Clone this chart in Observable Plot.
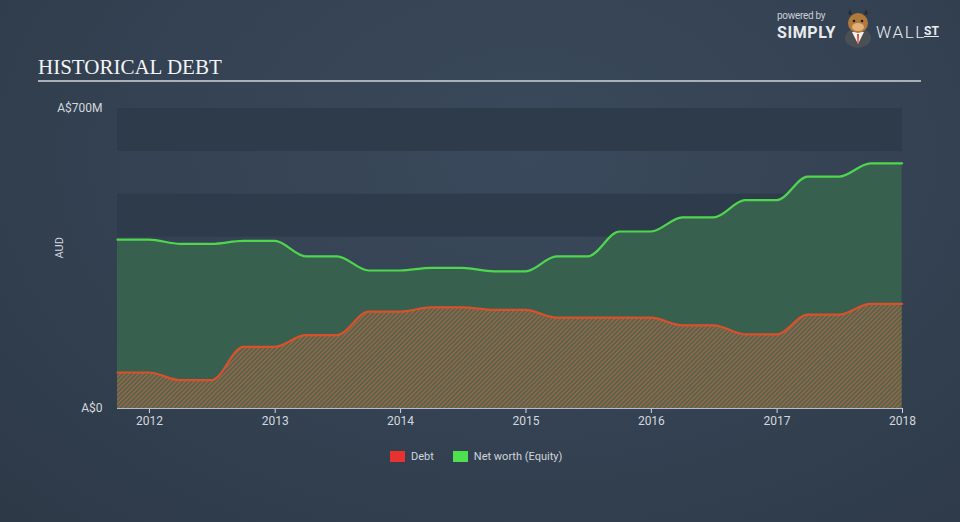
<!DOCTYPE html>
<html><head><meta charset="utf-8">
<script src="https://cdn.jsdelivr.net/npm/d3@7"></script>
<script src="https://cdn.jsdelivr.net/npm/@observablehq/plot@0.6"></script>
<style>
html,body{margin:0;padding:0;}
body{width:960px;height:522px;overflow:hidden;background:#344253;}
#wrap{position:relative;width:960px;height:522px;overflow:hidden;
  background:radial-gradient(ellipse at 55% 30%, #3a495b 0%, #344253 50%, #2d3947 100%);
  font-family:Roboto,"Liberation Sans",sans-serif;}
#chart{position:absolute;left:0;top:0;}
#title{position:absolute;left:38px;top:55px;font-family:"Liberation Serif","DejaVu Serif",serif;font-size:21px;color:#f2f4f6;}
#rule{position:absolute;left:38px;top:80px;width:883px;height:2px;background:#a9b0b8;}
#legend{position:absolute;top:450px;left:390px;display:flex;align-items:center;font-size:11px;color:#d0d5db;}
#legend .sw{width:15px;height:11px;display:inline-block;margin-right:6px;}
#legend .it{display:flex;align-items:center;margin-right:19px;}
#logo{position:absolute;left:777px;top:10px;color:#e9ecef;}
#logo .pb{font-size:10px;color:#c9ced4;position:absolute;left:0;top:0;white-space:nowrap;letter-spacing:-0.3px;}
#logo .s{font-size:16px;font-weight:bold;position:absolute;left:0;top:13px;letter-spacing:0.6px;}
#logo .w{font-size:17px;font-weight:300;position:absolute;left:99px;top:12px;letter-spacing:1.6px;}
#logo .st{font-size:12px;font-weight:bold;position:absolute;left:147px;top:14px;text-decoration:underline;}
#logo svg{position:absolute;left:64px;top:-2px;}
</style>
</head><body>
<div id="wrap">
  <div id="chart"></div>
  <div id="title">HISTORICAL DEBT</div>
  <div id="rule"></div>
  <div id="logo">
    <span class="pb">powered by</span>
    <span class="s">SIMPLY</span>
    <svg width="34" height="40" viewBox="0 0 34 40">
      <ellipse cx="17" cy="30" rx="13" ry="10" fill="#4a4f55"/>
      <path d="M11 24 L17 36 L23 24 Z" fill="#f2f2f2"/>
      <path d="M16 26 L18 26 L17.5 36 L16.5 36 Z" fill="#d9482b"/>
      <path d="M7 6 L9 1 L11 7 Z M27 6 L25 1 L23 7 Z" fill="#2b2b2b"/>
      <ellipse cx="17" cy="15" rx="10" ry="10" fill="#b07a3a"/>
      <ellipse cx="17" cy="19" rx="6" ry="4" fill="#e2b07a"/>
      <circle cx="13" cy="13" r="1.3" fill="#222"/><circle cx="21" cy="13" r="1.3" fill="#222"/>
    </svg>
    <span class="w">WALL</span>
    <span class="st">ST</span>
  </div>
  <div id="legend">
    <span class="it"><span class="sw" style="background:#e8322f"></span>Debt</span>
    <span class="it"><span class="sw" style="background:#4fe04f"></span>Net worth (Equity)</span>
  </div>
</div>
<script>
// Quarter-end dates (reported semi-annual values held across quarters)
const dates = [
  "2011-09-30","2011-12-31","2012-03-31","2012-06-30","2012-09-30","2012-12-31",
  "2013-03-31","2013-06-30","2013-09-30","2013-12-31","2014-03-31","2014-06-30",
  "2014-09-30","2014-12-31","2015-03-31","2015-06-30","2015-09-30","2015-12-31",
  "2016-03-31","2016-06-30","2016-09-30","2016-12-31","2017-03-31","2017-06-30",
  "2017-09-30","2017-12-31"
];
// Debt, A$ millions
const debt = [84,84,66,66,144,144,171,171,226,226,236,236,230,230,212,212,212,212,194,194,173,173,219,219,244,244];
// Net worth (Equity), A$ millions
const equity = [394,394,384,384,391,391,355,355,322,322,328,328,320,320,355,355,413,413,446,446,486,486,541,541,572,572];
// Axis ticks
const yearTicks = ["2012-01-01","2013-01-01","2014-01-01","2015-01-01","2016-01-01","2017-01-01","2018-01-01"];
const yTicks = [0, 700];
const xDomain = ["2011-09-30","2018-01-01"];
const yDomain = [0, 700];
// Alternating background bands (A$ millions)
const bandLow = [600, 400, 200, 0];
const bandHigh = [700, 500, 300, 100];

const data = dates.map((d, i) => ({date: new Date(d), debt: debt[i], equity: equity[i]}));
const bands = bandLow.map((lo, i) => ({lo, hi: bandHigh[i]}));

const chart = Plot.plot({
  width: 960,
  height: 522,
  marginLeft: 117,
  marginRight: 58,
  marginTop: 108,
  marginBottom: 114,
  style: {background: "transparent", color: "#d3d8de", fontSize: "12px", fontFamily: "Roboto, 'Liberation Sans', sans-serif"},
  x: {type: "utc", domain: xDomain.map(d => new Date(d)), ticks: yearTicks.map(d => new Date(d)), tickFormat: d3.utcFormat("%Y"), tickSize: 5, tickPadding: 3, label: null},
  y: {domain: yDomain, ticks: yTicks, tickFormat: d => d === 0 ? "A$0" : `A$${d}M`, tickSize: 0, tickPadding: 15, label: null},
  marks: [
    Plot.rect(bands, {y1: "lo", y2: "hi", fill: "#2e3b4b"}),
    Plot.areaY(data, {x: "date", y: "equity", fill: "#38604e", curve: "monotone-x"}),
    Plot.areaY(data, {x: "date", y: "debt", fill: "url(#hatch)", curve: "monotone-x"}),
    Plot.lineY(data, {x: "date", y: "equity", stroke: "#4fd64f", strokeWidth: 2.2, curve: "monotone-x"}),
    Plot.lineY(data, {x: "date", y: "debt", stroke: "#d9512b", strokeWidth: 2.2, curve: "monotone-x"}),
    Plot.ruleY([0], {stroke: "#b5bec8", strokeWidth: 1}),
    Plot.text(["AUD"], {frameAnchor: "left", dx: -58, rotate: -90, fill: "#d3d8de", fontSize: 11})
  ]
});

const svg = d3.select(chart);
const defs = svg.insert("defs", ":first-child");
const pat = defs.append("pattern")
  .attr("id", "hatch")
  .attr("patternUnits", "userSpaceOnUse")
  .attr("width", 3.2).attr("height", 3.2)
  .attr("patternTransform", "rotate(-45)");
pat.append("rect").attr("width", 3.2).attr("height", 3.2).attr("fill", "#4c6652");
pat.append("rect").attr("width", 3.2).attr("height", 1.3).attr("fill", "#a9633f");

document.getElementById("chart").appendChild(chart);
</script>
</body></html>
